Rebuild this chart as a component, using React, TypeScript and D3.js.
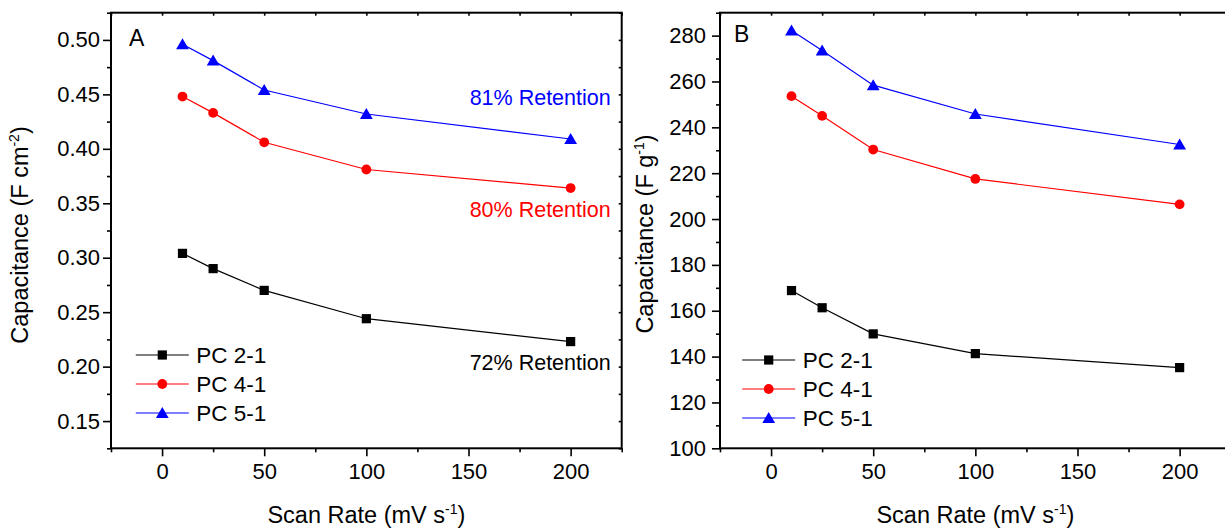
import React, { useRef, useEffect } from "react";
import * as d3 from "d3";

// scan rates (mV/s)
const scanRates = [10, 25, 50, 100, 200];

// panel A: areal capacitance (F cm^-2)
const arealPC21 = [0.304, 0.290, 0.270, 0.244, 0.223];
const arealPC41 = [0.448, 0.433, 0.406, 0.381, 0.364];
const arealPC51 = [0.496, 0.481, 0.454, 0.432, 0.409];

// panel B: gravimetric capacitance (F g^-1)
const gravPC21 = [168.8, 161.3, 149.9, 141.3, 135.2];
const gravPC41 = [253.6, 245.0, 230.3, 217.5, 206.4];
const gravPC51 = [282.2, 273.5, 258.4, 245.8, 232.5];

const seriesNames = ["PC 2-1", "PC 4-1", "PC 5-1"];
const seriesColors = ["#000000", "#ff0000", "#0000ff"];
const seriesShapes = ["square", "circle", "triangle"];

const retentionLabels = ["72% Retention", "80% Retention", "81% Retention"];

const scanTicks = [0, 50, 100, 150, 200];
const scanMinor = [-25, 25, 75, 125, 175, 225];
const arealTicks = [0.15, 0.2, 0.25, 0.3, 0.35, 0.4, 0.45, 0.5];
const arealMinor = [0.125, 0.175, 0.225, 0.275, 0.325, 0.375, 0.425, 0.475, 0.525];
const gravTicks = [100, 120, 140, 160, 180, 200, 220, 240, 260, 280];
const gravMinor = [110, 130, 150, 170, 190, 210, 230, 250, 270, 290];

const FONT = "'Liberation Sans', Arial, sans-serif";
const W = 1225, H = 529;
const TOP = 12.7, BOTTOM = 448.3;

function drawMarker(g, shape, x, y, color) {
    if (shape === "square") {
        g.append("rect").attr("x", x - 4.6).attr("y", y - 4.6)
            .attr("width", 9.2).attr("height", 9.2).attr("fill", color);
    } else if (shape === "circle") {
        g.append("circle").attr("cx", x).attr("cy", y).attr("r", 4.9).attr("fill", color);
    } else {
        g.append("path")
            .attr("d", `M${x},${y - 6} L${x + 6.4},${y + 5} L${x - 6.4},${y + 5} Z`)
            .attr("fill", color);
    }
}

export default function App() {
    const ref = useRef(null);

    useEffect(() => {
        const svg = d3.select(ref.current);
        svg.selectAll("*").remove();

        const panels = [
            {
                letter: "A", letterX: 129, letterY: 46,
                left: 111, right: 621.7,
                yDomain: [0.125, 0.525], yTicks: arealTicks, yMinor: arealMinor,
                yFormat: d3.format(".2f"), yPad: 3,
                series: [arealPC21, arealPC41, arealPC51],
                yTitle: ["Capacitance (F cm", "-2", ")"], yTitleX: 28.3, yTitleY: 235,
                legendX: 162.3, legendY: 355,
                retention: true,
            },
            {
                letter: "B", letterX: 734, letterY: 42,
                left: 720, right: 1230.7,
                yDomain: [100, 290], yTicks: gravTicks, yMinor: gravMinor,
                yFormat: d3.format("d"), yPad: 6,
                series: [gravPC21, gravPC41, gravPC51],
                yTitle: ["Capacitance (F g", "-1", ")"], yTitleX: 653, yTitleY: 234,
                legendX: 768.7, legendY: 360,
                retention: false,
            },
        ];

        panels.forEach(p => {
            const x = d3.scaleLinear().domain([-25, 225]).range([p.left, p.right]);
            const y = d3.scaleLinear().domain(p.yDomain).range([BOTTOM, TOP]);
            const g = svg.append("g");

            // axes
            const axL = g.append("g").attr("transform", `translate(${p.left},0)`)
                .call(d3.axisLeft(y).tickValues(p.yTicks).tickSize(8).tickPadding(p.yPad)
                    .tickFormat(p.yFormat));
            g.append("g").attr("transform", `translate(${p.left},0)`)
                .call(d3.axisLeft(y).tickValues(p.yMinor).tickSize(4).tickFormat(() => ""));
            const axB = g.append("g").attr("transform", `translate(0,${BOTTOM})`)
                .call(d3.axisBottom(x).tickValues(scanTicks).tickSize(8).tickPadding(7));
            g.append("g").attr("transform", `translate(0,${BOTTOM})`)
                .call(d3.axisBottom(x).tickValues(scanMinor).tickSize(4).tickFormat(() => ""));
            // mirrored ticks
            g.append("g").attr("transform", `translate(0,${TOP})`)
                .call(d3.axisTop(x).tickValues(scanTicks.concat(scanMinor)).tickSize(-3).tickFormat(() => ""));
            g.append("g").attr("transform", `translate(${p.right},0)`)
                .call(d3.axisRight(y).tickValues(p.yTicks.concat(p.yMinor)).tickSize(-3).tickFormat(() => ""));

            g.selectAll(".domain").remove();
            g.selectAll(".tick line").attr("stroke", "#000").attr("stroke-width", 1.6);
            [axL, axB].forEach(a => a.selectAll(".tick text")
                .attr("font-family", FONT).attr("font-size", 22).attr("fill", "#000"));

            g.append("rect")
                .attr("x", p.left).attr("y", TOP)
                .attr("width", p.right - p.left).attr("height", BOTTOM - TOP)
                .attr("fill", "none").attr("stroke", "#000").attr("stroke-width", 2);

            // series
            const line = d3.line().x((d, i) => x(scanRates[i])).y(d => y(d));
            p.series.forEach((vals, si) => {
                g.append("path").datum(vals)
                    .attr("d", line).attr("fill", "none")
                    .attr("stroke", seriesColors[si]).attr("stroke-width", 1.2);
                vals.forEach((v, i) => drawMarker(g, seriesShapes[si], x(scanRates[i]), y(v), seriesColors[si]));
            });

            // retention annotations next to the last point
            if (p.retention) {
                const offsets = [28, 29, -34];
                p.series.forEach((vals, si) => {
                    g.append("text")
                        .attr("x", x(225) - 11).attr("y", y(vals[vals.length - 1]) + offsets[si])
                        .attr("text-anchor", "end")
                        .attr("font-family", FONT).attr("font-size", 21.5)
                        .attr("fill", seriesColors[si])
                        .text(retentionLabels[si]);
                });
            }

            // panel letter
            g.append("text").attr("x", p.letterX).attr("y", p.letterY)
                .attr("font-family", FONT).attr("font-size", 23).attr("fill", "#000")
                .text(p.letter);

            // legend
            seriesNames.forEach((name, si) => {
                const ly = p.legendY + si * 29;
                g.append("line")
                    .attr("x1", p.legendX - 26.5).attr("x2", p.legendX + 26.5)
                    .attr("y1", ly).attr("y2", ly)
                    .attr("stroke", seriesColors[si]).attr("stroke-width", 1.2);
                drawMarker(g, seriesShapes[si], p.legendX, ly, seriesColors[si]);
                g.append("text").attr("x", p.legendX + 34).attr("y", ly + 8)
                    .attr("font-family", FONT).attr("font-size", 22.5).attr("fill", "#000")
                    .text(name);
            });

            // y title
            const yt = g.append("text")
                .attr("transform", `translate(${p.yTitleX},${p.yTitleY}) rotate(-90)`)
                .attr("text-anchor", "middle")
                .attr("font-family", FONT).attr("font-size", 23.5).attr("fill", "#000");
            yt.append("tspan").text(p.yTitle[0]);
            yt.append("tspan").attr("dy", -9).attr("font-size", 14).text(p.yTitle[1]);
            yt.append("tspan").attr("dy", 9).text(p.yTitle[2]);

            // x title
            const xt = g.append("text")
                .attr("x", (p.left + p.right) / 2).attr("y", 523)
                .attr("text-anchor", "middle")
                .attr("font-family", FONT).attr("font-size", 23.5).attr("fill", "#000");
            xt.append("tspan").text("Scan Rate (mV s");
            xt.append("tspan").attr("dy", -9).attr("font-size", 14).text("-1");
            xt.append("tspan").attr("dy", 9).text(")");
        });
    }, []);

    return (
        <svg ref={ref} width={W} height={H}
            style={{ position: "absolute", left: 0, top: 0, background: "#fff" }} />
    );
}
